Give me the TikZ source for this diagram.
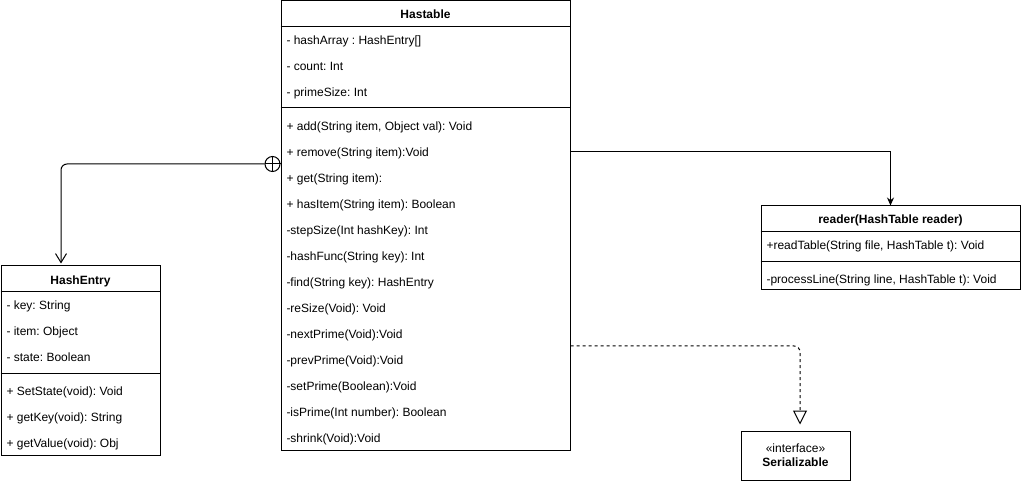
\documentclass[tikz,border=0pt]{standalone}
\usepackage{fontspec}
\setmainfont{Liberation Sans}
\usetikzlibrary{arrows.meta}
\usetikzlibrary{shapes,positioning}
\frenchspacing

\begin{document}
\begin{tikzpicture}[x=1pt, y=-1pt, line width=1pt,
        font=\fontsize{12}{14}\selectfont,
        classbox/.style={draw, rectangle, inner sep=0pt},
        member/.style={anchor=west, inner sep=0pt, text height=9pt, text depth=3pt},
        title/.style={inner sep=0pt, text height=9pt, text depth=3pt, font=\fontsize{12}{14}\selectfont\bfseries}
    ]
        \useasboundingbox (0,0) rectangle (1021,481);
        % boxes
        \node[classbox, minimum width=289, minimum height=449] (hastable) at (425.5,225.5) {};
        \node[classbox, minimum width=159, minimum height=189] (hashentry) at (80.5,360.5) {};
        \node[classbox, minimum width=259, minimum height=84] (reader) at (890.5,248) {};
        \node[classbox, minimum width=109, minimum height=49, align=center] (serial) at (795.5,455.5)
            {\fontsize{12}{14}\selectfont «interface»\\\textbf{Serializable}};
        % Hastable
        \node[title] (hastitle) at (425.5,15.5) {Hastable};
        \draw (hastable.west |- 0,27) -- (hastable.east |- 0,27);
        \draw (hastable.west |- 0,108) -- (hastable.east |- 0,108);
        \foreach \txt [count=\i] in {- hashArray : HashEntry[], - count: Int, - primeSize: Int}
            \node[member] (ha\i) at (286,{15.5+26*\i}) {\txt};
        \foreach \txt [count=\i] in {{+ add(String item, Object val): Void}, + remove(String item):Void,
                + get(String item):, + hasItem(String item): Boolean, -stepSize(Int hashKey): Int,
                -hashFunc(String key): Int, -find(String key): HashEntry, -reSize(Void): Void,
                -nextPrime(Void):Void, -prevPrime(Void):Void, -setPrime(Boolean):Void,
                -isPrime(Int number): Boolean, -shrink(Void):Void}
            \node[member] (hm\i) at (286,{101.5+26*\i}) {\txt};
        % HashEntry
        \node[title] (hetitle) at (80.5,281.5) {HashEntry};
        \draw (hashentry.west |- 0,292) -- (hashentry.east |- 0,292);
        \draw (hashentry.west |- 0,373) -- (hashentry.east |- 0,373);
        \foreach \txt [count=\i] in {- key: String, - item: Object, - state: Boolean}
            \node[member] (hea\i) at (6,{280.5+26*\i}) {\txt};
        \foreach \txt [count=\i] in {+ SetState(void): Void, + getKey(void): String, + getValue(void): Obj}
            \node[member] (hem\i) at (6,{366.5+26*\i}) {\txt};
        % reader
        \node[title] (rdtitle) at (890.5,220.5) {reader(HashTable reader)};
        \draw (reader.west |- 0,232) -- (reader.east |- 0,232);
        \draw (reader.west |- 0,262) -- (reader.east |- 0,262);
        \node[member] (rd1) at (766,246.5) {+readTable(String file, HashTable t): Void};
        \node[member] (rd2) at (766,280.5) {-processLine(String line, HashTable t): Void};
        % connectors
        \node[circle, draw, fill=white, minimum size=15, inner sep=0pt] (own) at (272.5,164) {};
        \draw (own.north) -- (own.south) (own.west) -- (own.east);
        \draw[-{Straight Barb[length=9pt,width=11pt]}, rounded corners=6pt, shorten >=2pt]
            (own.west) -| ([xshift=-19.5pt]hashentry.north);
        \draw[-{Stealth[length=8pt,width=7pt]}] (hastable.east |- 0,152) -| (reader.north);
        \draw[dash pattern=on 3pt off 3pt, rounded corners=6pt,
            -{Triangle[open,length=14pt,width=14pt,fill=white]}, shorten >=6pt]
            ([yshift=-120.5pt]hastable.east) -| ([xshift=4.5pt]serial.north);
    \end{tikzpicture}
\end{document}
